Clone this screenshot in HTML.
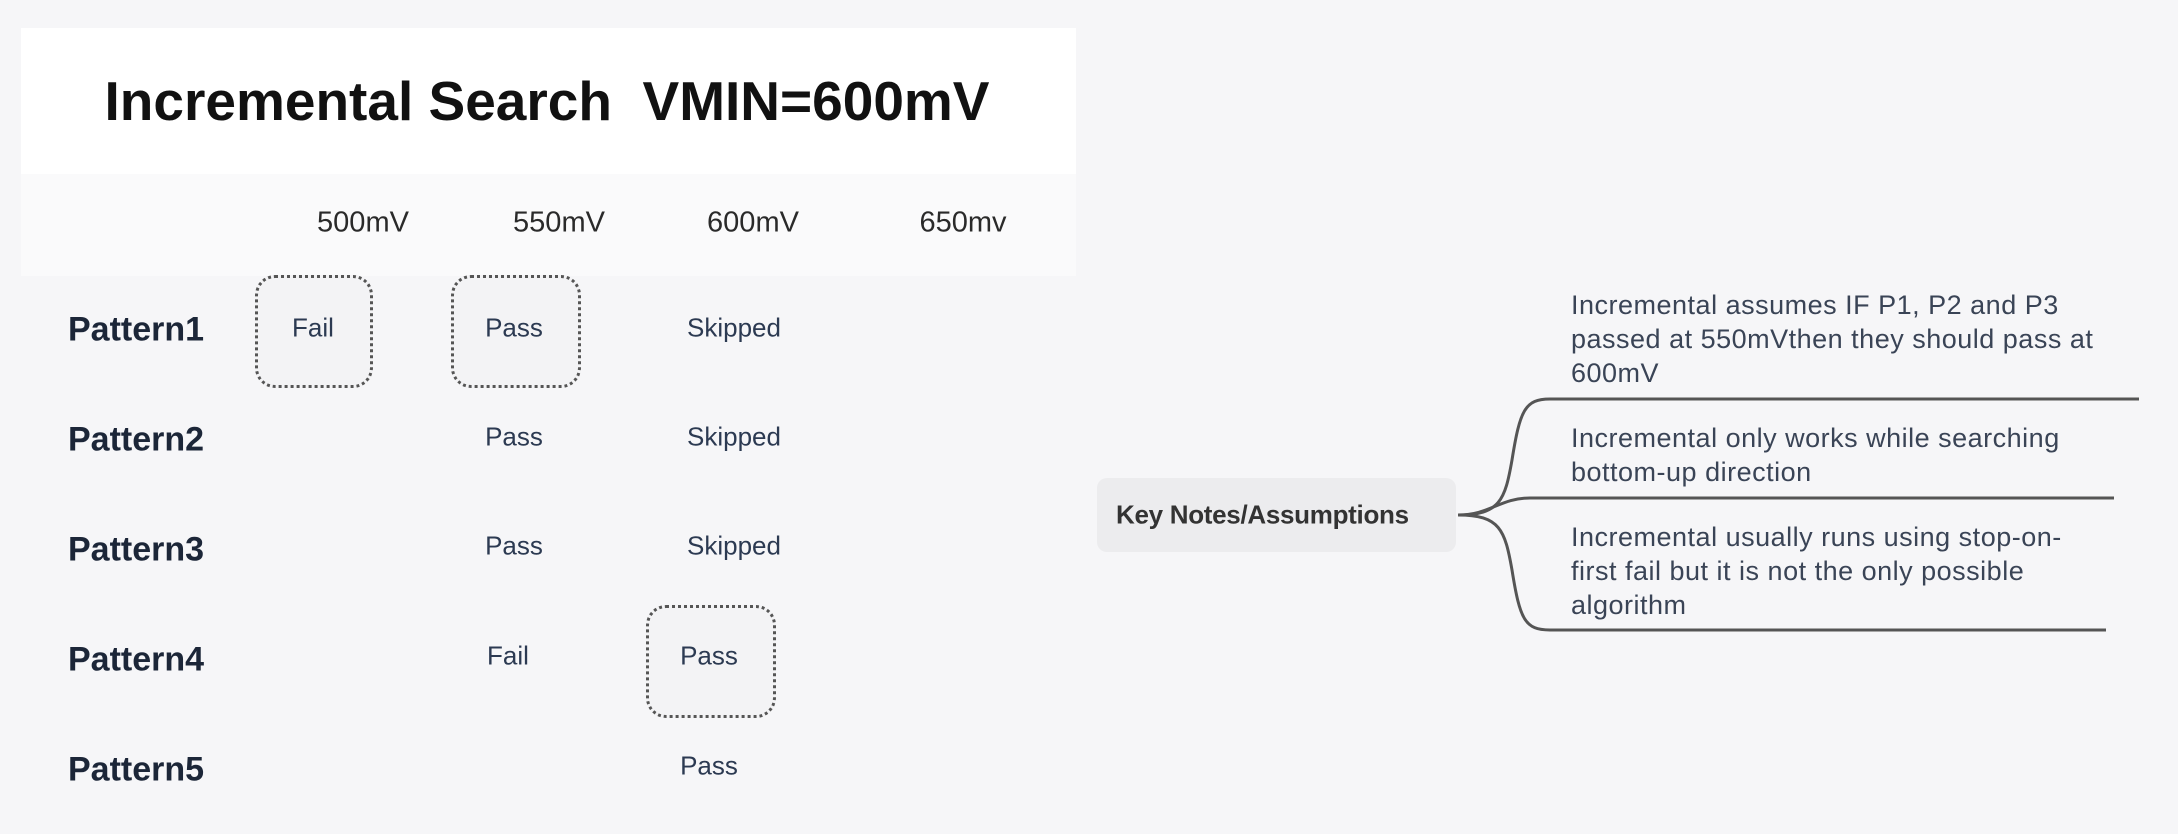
<!DOCTYPE html>
<html><head><meta charset="utf-8"><style>
html,body{margin:0;padding:0}
body{width:2178px;height:834px;background:#f6f6f8;position:relative;overflow:hidden;font-family:"Liberation Sans",sans-serif}
.a{position:absolute;white-space:nowrap}
.c{transform:translate(-50%,-50%)}
.lbl{font-weight:bold;font-size:34px;color:#1c2638;transform:translateY(-50%)}
.cell{font-size:26px;color:#2c3a52}
.hdr{font-size:29px;color:#2a2a2a}
.box{position:absolute;border:3px dotted #555;border-radius:20px;background:#f3f3f5;box-sizing:border-box}
.note{position:absolute;left:1571px;font-size:27px;color:#3a4456;line-height:34px;letter-spacing:0.5px}
</style></head><body>
<div class="a" style="left:21px;top:28px;width:1055px;height:146px;background:#fff"></div>
<div class="a" style="left:21px;top:174px;width:1055px;height:102px;background:#fafafb"></div>
<div class="a c" style="left:547px;top:101px;font-size:55px;font-weight:bold;color:#111">Incremental Search&nbsp; VMIN=600mV</div>
<div class="a c hdr" style="left:363px;top:223px">500mV</div>
<div class="a c hdr" style="left:559px;top:223px">550mV</div>
<div class="a c hdr" style="left:753px;top:223px">600mV</div>
<div class="a c hdr" style="left:963px;top:223px">650mv</div>

<div class="box" style="left:255px;top:275px;width:118px;height:113px"></div>
<div class="box" style="left:451px;top:275px;width:130px;height:113px"></div>
<div class="box" style="left:646px;top:605px;width:130px;height:113px"></div>

<div class="a lbl" style="left:68px;top:330px">Pattern1</div>
<div class="a lbl" style="left:68px;top:440px">Pattern2</div>
<div class="a lbl" style="left:68px;top:550px">Pattern3</div>
<div class="a lbl" style="left:68px;top:660px">Pattern4</div>
<div class="a lbl" style="left:68px;top:770px">Pattern5</div>

<div class="a c cell" style="left:313px;top:328px">Fail</div>
<div class="a c cell" style="left:514px;top:328px">Pass</div>
<div class="a c cell" style="left:734px;top:328px">Skipped</div>
<div class="a c cell" style="left:514px;top:437px">Pass</div>
<div class="a c cell" style="left:734px;top:437px">Skipped</div>
<div class="a c cell" style="left:514px;top:546px">Pass</div>
<div class="a c cell" style="left:734px;top:546px">Skipped</div>
<div class="a c cell" style="left:508px;top:656px">Fail</div>
<div class="a c cell" style="left:709px;top:656px">Pass</div>
<div class="a c cell" style="left:709px;top:766px">Pass</div>

<div class="a" style="left:1097px;top:478px;width:359px;height:74px;background:#ececee;border-radius:10px"></div>
<div class="a" style="left:1116px;top:515px;transform:translateY(-50%);font-size:26px;font-weight:bold;color:#333;letter-spacing:-0.3px">Key Notes/Assumptions</div>

<svg class="a" style="left:0;top:0" width="2178" height="834">
<g fill="none" stroke="#555" stroke-width="3">
<path d="M1458 515 C1500 515 1505 500 1512 460 C1520 410 1525 399 1550 399 L2139 399"/>
<path d="M1458 515 C1490 515 1500 498 1530 498 L2114 498"/>
<path d="M1458 515 C1500 515 1505 530 1512 570 C1520 620 1525 630 1550 630 L2106 630"/>
</g></svg>

<div class="note" style="top:288px">Incremental assumes IF P1, P2 and P3<br>passed at 550mVthen they should pass at<br>600mV</div>
<div class="note" style="top:421px">Incremental only works while searching<br>bottom-up direction</div>
<div class="note" style="top:520px">Incremental usually runs using stop-on-<br>first fail but it is not the only possible<br>algorithm</div>
</body></html>
